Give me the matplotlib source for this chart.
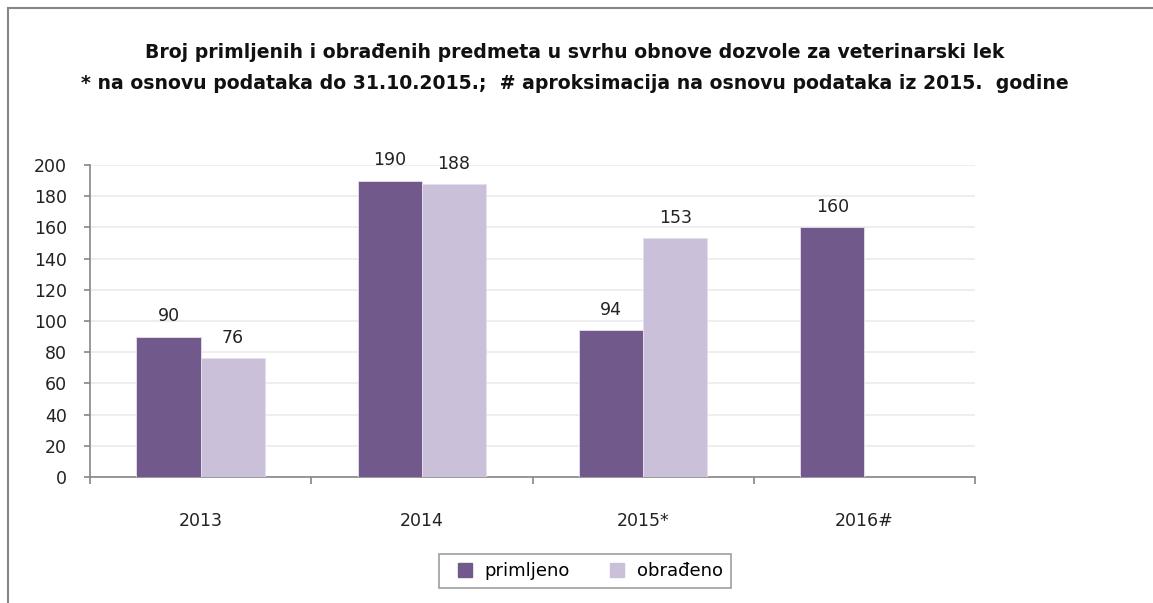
import numpy as np
import matplotlib.pyplot as plt
from matplotlib.lines import Line2D

godine = ["2013", "2014", "2015*", "2016#"]
primljeno = [90, 190, 94, 160]
obradjeno = [76, 188, 153, None]

naslov = ("Broj primljenih i obrađenih predmeta u svrhu obnove dozvole za veterinarski lek\n"
          "* na osnovu podataka do 31.10.2015.;  # aproksimacija na osnovu podataka iz 2015.  godine")

boja_prim = "#72598C"
boja_obr = "#CBC0DA"
siva = "#868686"

fig = plt.figure(figsize=(11.53, 6.03), dpi=100)
ax = fig.add_axes([90 / 1153, 1 - 477 / 603, 885 / 1153, 312 / 603])

x = np.arange(len(godine))
w = 0.29
obr_vals = [v if v is not None else 0 for v in obradjeno]
b1 = ax.bar(x - w / 2, primljeno, w, color=boja_prim, edgecolor="#E6E0EE", linewidth=0.6, zorder=3)
b2 = ax.bar(x + w / 2, obr_vals, w, color=boja_obr, edgecolor="#E6E0EE", linewidth=0.6, zorder=3)

for xi, v in zip(x, primljeno):
    ax.annotate(str(v), (xi - w / 2, v), xytext=(0, 8), textcoords="offset points",
                ha="center", va="bottom", fontsize=12.5, color="#222222")
for xi, v in zip(x, obradjeno):
    if v is not None:
        ax.annotate(str(v), (xi + w / 2, v), xytext=(0, 8), textcoords="offset points",
                    ha="center", va="bottom", fontsize=12.5, color="#222222")

ax.set_xlim(-0.5, len(godine) - 0.5)
ax.set_ylim(0, 200)
ax.set_yticks(range(0, 201, 20))
ax.grid(axis="y", color="#EBEBEB", linewidth=1.2, zorder=0)

# kategorije: oznake u sredini, crtice na granicama
ax.set_xticks(x)
ax.set_xticklabels(godine, fontsize=12.5, color="#222222")
ax.set_xticks(np.arange(-0.5, len(godine)), minor=True)
ax.tick_params(axis="x", which="major", length=0, pad=25)
ax.tick_params(axis="x", which="minor", length=5, color=siva, width=1.2)
ax.tick_params(axis="y", length=4.5, color=siva, width=1.2, labelsize=12.5, labelcolor="#222222", pad=12)

for s in ["top", "right"]:
    ax.spines[s].set_visible(False)
for s in ["left", "bottom"]:
    ax.spines[s].set_color(siva)
    ax.spines[s].set_linewidth(1.2)

fig.text(575 / 1153, 1 - 68 / 603, naslov, ha="center", va="center", fontsize=13.6,
         fontweight="bold", linespacing=1.75, color="#111111")

handles = [Line2D([], [], marker="s", linestyle="none", markersize=10, color=boja_prim),
           Line2D([], [], marker="s", linestyle="none", markersize=10, color=boja_obr)]
leg = fig.legend(handles, ["primljeno", "obrađeno"], loc="center", ncol=2,
                 bbox_to_anchor=(585 / 1153, 1 - 571 / 603), fontsize=13,
                 frameon=True, fancybox=False, edgecolor=siva, handletextpad=0.1,
                 columnspacing=1.6, borderpad=0.45)
leg.get_frame().set_linewidth(1.2)

# okvir grafikona
fig.add_artist(Line2D([8 / 1153, 1], [1 - 8 / 603, 1 - 8 / 603], transform=fig.transFigure,
                      color=siva, linewidth=1.5))
fig.add_artist(Line2D([8 / 1153, 8 / 1153], [0, 1 - 8 / 603], transform=fig.transFigure,
                      color=siva, linewidth=1.5))

fig.savefig("out.png", dpi=100)
